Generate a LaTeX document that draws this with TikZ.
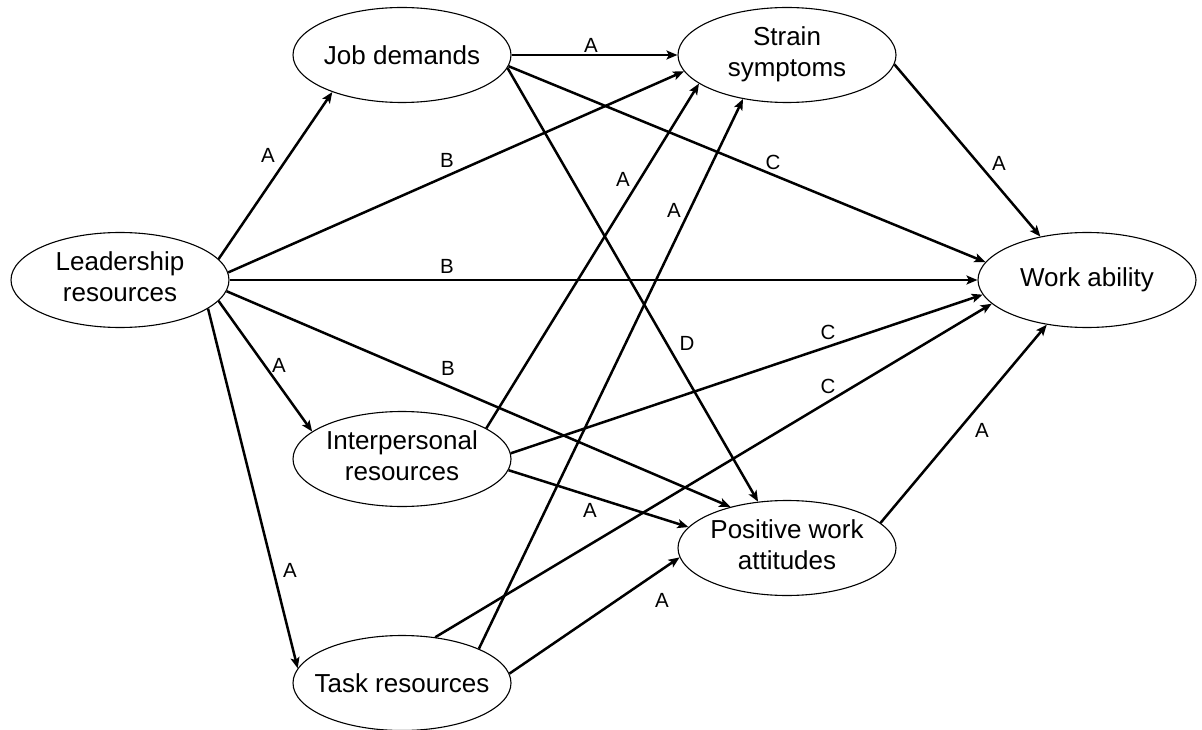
\documentclass[tikz,border=0pt]{standalone}
\usepackage{fontspec}
\setmainfont{Liberation Sans}
\usetikzlibrary{arrows.meta,shapes.geometric}
\newcommand{\twoline}[2]{\makebox[0pt]{\begin{tabular}{@{}c@{}}#1\\#2\end{tabular}}}
\begin{document}
\begin{tikzpicture}[x=1pt,y=-1pt,
  var/.style={ellipse,draw,line width=1.1pt,minimum width=218pt,minimum height=95pt,inner sep=0pt,font=\fontsize{26}{31}\selectfont},
  arr/.style={line width=2.5pt,-{Stealth[length=11pt,width=9pt,inset=2.5pt]}},
  lab/.style={font=\fontsize{20.5}{24}\selectfont,inner sep=0pt}]
\useasboundingbox (0,0) rectangle (1202,730);
\node[var] (L) at (120,280) {\twoline{Leadership}{resources}};
\node[var] (J) at (402,55) {\makebox[0pt]{Job demands}};
\node[var] (S) at (787,55) {\twoline{Strain}{symptoms}};
\node[var] (W) at (1087,280) {\makebox[0pt]{Work ability}};
\node[var] (I) at (402,459) {\twoline{Interpersonal}{resources}};
\node[var] (P) at (787,548) {\twoline{Positive work}{attitudes}};
\node[var] (T) at (402,683) {\makebox[0pt]{Task resources}};
% connectors
\draw[arr] (L.12) -- (J.208);
\draw[arr] (L.4) -- (S.189);
\draw[arr] (L.0) -- (W.180);
\draw[arr] (L.354.6) -- (P.144);
\draw[arr] (L.348.5) -- (I.163);
\draw[arr] (L.342.4) -- (T.172);
\draw[arr] (J.0) -- (S.180);
\draw[arr] (J.354.7) -- (W.170.5);
\draw[arr] (J.353) -- (P.122);
\draw[arr] (S.355.7) -- (W.137.5);
\draw[arr] (I.20.3) -- (S.198.6);
\draw[arr] (I.3.2) -- (W.188.2);
\draw[arr] (I.354.2) -- (P.168.6);
\draw[arr] (T.24.2) -- (S.225);
\draw[arr] (T.54.3) -- (W.194.5);
\draw[arr] (T.5.4) -- (P.185.3);
\draw[arr] (P.15) -- (W.228);
% labels
\node[lab] (l1) at (268,155) {A};
\node[lab] (l2) at (447,160) {B};
\node[lab] (l3) at (447,266) {B};
\node[lab] (l4) at (448,368) {B};
\node[lab] (l5) at (279,365) {A};
\node[lab] (l6) at (290,570) {A};
\node[lab] (l7) at (591,45) {A};
\node[lab] (l8) at (773,162) {C};
\node[lab] (l9) at (687,343) {D};
\node[lab] (l10) at (999,163) {A};
\node[lab] (l11) at (623,179) {A};
\node[lab] (l12) at (674,210) {A};
\node[lab] (l13) at (828,332) {C};
\node[lab] (l14) at (828,386) {C};
\node[lab] (l15) at (590,510) {A};
\node[lab] (l16) at (662,600) {A};
\node[lab] (l17) at (982,430) {A};
\end{tikzpicture}
\end{document}
